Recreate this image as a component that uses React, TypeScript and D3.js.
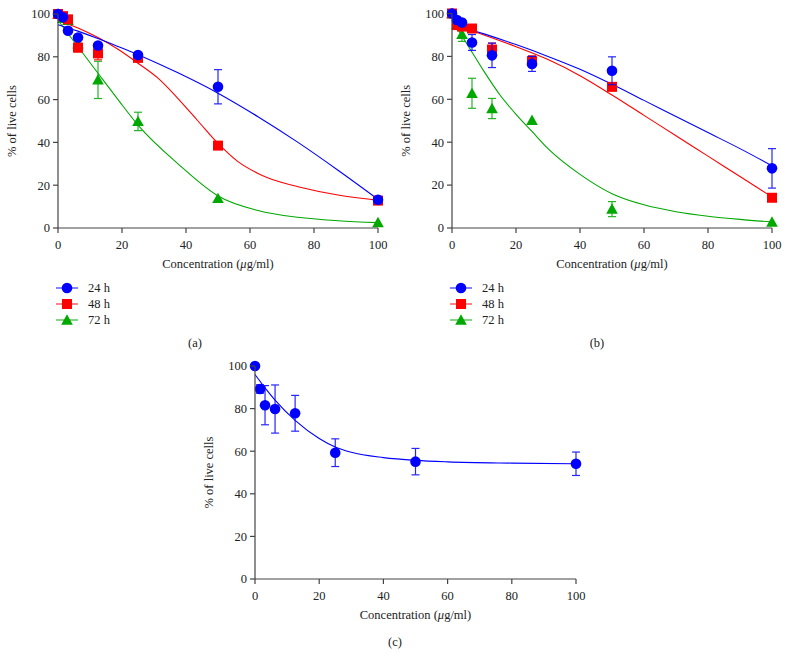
import * as d3 from "d3";

// concentrations (µg/ml) used in every panel
const conc = [0, 1.5625, 3.125, 6.25, 12.5, 25, 50, 100];
const xTicks = [0, 20, 40, 60, 80, 100];
const yTicks = [0, 20, 40, 60, 80, 100];

// panel (a)
const a24 = [100, 98.5, 92.2, 89, 85.3, 80.8, 66, 13.2];
const a24Err = [0, 0, 0, 0, 0, 0, 8, 0];
const a48 = [100, 99, 97.5, 84.3, 81.6, 79.5, 38.5, 12.8];
const a48Err = [0, 0, 0, 2, 3, 0, 0, 0];
const a72 = [100, 98, 97, 86, 69.2, 49.8, 13.8, 2.5];
const a72Err = [0, 0, 0, 0, 8.7, 4.3, 0, 0];
// fitted curves
const aFitX = [0, 6.25, 12.5, 18.75, 25, 37.5, 50, 62.5, 75, 87.5, 100];
const a24Fit = [95, 92, 88.5, 84.8, 81, 72.5, 63, 52, 40, 27, 13.4];
const a72Fit = [97, 84.7, 72.3, 60, 48.1, 30, 15, 8.2, 5, 3.4, 2.5];
const a48FitX = [0, 6.25, 12.5, 18.75, 25, 31.25, 37.5, 43.75, 50, 56.25, 62.5, 68.75, 75, 87.5, 100];
const a48Fit = [97, 93.5, 89, 83.5, 77, 70, 60.5, 50, 39.5, 31, 25.5, 21.8, 19.3, 15.4, 13];

// panel (b)
const b24 = [100, 97, 95.8, 86.5, 80.5, 76.5, 73.3, 27.8];
const b24Err = [0, 0, 0, 3.7, 5.7, 3.5, 6.5, 9.2];
const b48 = [100, 94.6, 93.9, 93, 83.2, 77.8, 65.8, 14.1];
const b48Err = [0, 0, 0, 0, 3, 2.5, 0, 0];
const b72 = [100, 95, 90.3, 62.8, 55.7, 50.2, 8.8, 2.8];
const b72Err = [0, 0, 3.3, 7, 4.7, 0, 3.5, 0];
const bFitX = [0, 10, 20, 30, 40, 50, 60, 70, 80, 90, 100];
const b24Fit = [95, 90.5, 85.5, 80, 74, 67, 59.5, 52, 44.5, 37, 29];
const b48Fit = [95, 90, 84.5, 78.5, 71, 62, 52.5, 43, 33.5, 24, 14.5];
const b72FitX = [0, 5, 10, 15, 20, 25, 30, 40, 50, 60, 70, 80, 90, 100];
const b72Fit = [97, 85, 73, 62, 53, 45, 37, 25, 16, 10.8, 7.6, 5.5, 4, 2.8];

// panel (c)
const c24 = [100, 89.2, 81.6, 79.8, 77.8, 59.3, 55.1, 54.1];
const c24Err = [0, 2, 9.2, 11.3, 8.4, 6.5, 6.2, 5.5];
const cFitX = [0, 3, 6.25, 12.5, 20, 25, 30, 40, 50, 60, 80, 100];
const c24Fit = [96, 90, 84, 74.5, 66, 62, 59.5, 57, 55.7, 55, 54.4, 54.1];

const BLUE = "#0000ff";
const RED = "#ff0000";
const GREEN = "#00a800";
const FONT = "'Liberation Serif', 'DejaVu Serif', serif";

type Series = {
  label: string;
  color: string;
  shape: "circle" | "square" | "triangle";
  values: number[];
  err: number[];
  fitX: number[];
  fit: number[];
};

const Marker = ({ shape, color, x, y }) => {
  if (shape === "circle") return <circle cx={x} cy={y} r={5.3} fill={color} />;
  if (shape === "square")
    return <rect x={x - 5} y={y - 5} width={10} height={10} fill={color} />;
  const s = 5.8;
  return (
    <path
      d={`M${x},${y - s}L${x + s},${y + s * 0.8}L${x - s},${y + s * 0.8}Z`}
      fill={color}
    />
  );
};

const Panel = ({ x0, x1, yTop, yBot, series, caption, captionX, legend }) => {
  const x = d3.scaleLinear().domain([0, 100]).range([x0, x1]);
  const y = d3.scaleLinear().domain([0, 100]).range([yBot, yTop]);
  const axisColor = "#444";
  // draw order: last series first so blue ends on top
  const order = [...series].reverse();
  return (
    <g fontFamily={FONT} fontSize={12.5} fill="#222">
      {/* fits */}
      {order.map((s) => {
        const line = d3
          .line<number>()
          .x((d, i) => x(s.fitX[i]))
          .y((d) => y(d))
          .curve(d3.curveMonotoneX);
        return (
          <path key={"f" + s.label} d={line(s.fit) || ""} fill="none" stroke={s.color} strokeWidth={1.1} />
        );
      })}
      {/* error bars + markers */}
      {order.map((s) => (
        <g key={"m" + s.label}>
          {s.values.map((v, i) =>
            s.err[i] > 0 ? (
              <g key={i} stroke={s.color} strokeWidth={1.2} opacity={0.85}>
                <line x1={x(conc[i])} x2={x(conc[i])} y1={y(v - s.err[i])} y2={y(v + s.err[i])} />
                <line x1={x(conc[i]) - 4} x2={x(conc[i]) + 4} y1={y(v - s.err[i])} y2={y(v - s.err[i])} />
                <line x1={x(conc[i]) - 4} x2={x(conc[i]) + 4} y1={y(v + s.err[i])} y2={y(v + s.err[i])} />
              </g>
            ) : null
          )}
          {s.values.map((v, i) => (
            <Marker key={i} shape={s.shape} color={s.color} x={x(conc[i])} y={y(v)} />
          ))}
        </g>
      ))}
      {/* axes */}
      <line x1={x0} x2={x0} y1={yBot} y2={yTop} stroke={axisColor} strokeWidth={1.2} />
      <line x1={x0} x2={x1} y1={yBot} y2={yBot} stroke={axisColor} strokeWidth={1.2} />
      {yTicks.map((t) => (
        <g key={"y" + t}>
          <line x1={x0 - 5} x2={x0} y1={y(t)} y2={y(t)} stroke={axisColor} strokeWidth={1.2} />
          <text x={x0 - 8} y={y(t)} dy="0.35em" textAnchor="end">
            {t}
          </text>
        </g>
      ))}
      {xTicks.map((t) => (
        <g key={"x" + t}>
          <line x1={x(t)} x2={x(t)} y1={yBot} y2={yBot + 5} stroke={axisColor} strokeWidth={1.2} />
          <text x={x(t)} y={yBot + 21} textAnchor="middle">
            {t}
          </text>
        </g>
      ))}
      <text
        transform={`translate(${x0 - 42},${(yTop + yBot) / 2}) rotate(-90)`}
        textAnchor="middle"
      >
        % of live cells
      </text>
      <text x={(x0 + x1) / 2} y={yBot + 40} textAnchor="middle">
        Concentration (<tspan fontStyle="italic">μ</tspan>g/ml)
      </text>
      {legend &&
        series.map((s, i) => {
          const ly = yBot + 60 + i * 16;
          return (
            <g key={"l" + s.label}>
              <line x1={x0 - 2} x2={x0 + 20} y1={ly} y2={ly} stroke={s.color} strokeWidth={1.2} opacity={0.8} />
              <Marker shape={s.shape} color={s.color} x={x0 + 9} y={ly} />
              <text x={x0 + 30} y={ly} dy="0.35em">
                {s.label}
              </text>
            </g>
          );
        })}
      <text x={captionX} y={legend ? yBot + 119 : yBot + 67} textAnchor="middle">
        {caption}
      </text>
    </g>
  );
};

const mk = (label, color, shape, values, err, fx, fit): Series => ({
  label,
  color,
  shape,
  values,
  err,
  fitX: fx,
  fit,
});

export default function App() {
  const seriesA = [
    mk("24 h", BLUE, "circle", a24, a24Err, aFitX, a24Fit),
    mk("48 h", RED, "square", a48, a48Err, a48FitX, a48Fit),
    mk("72 h", GREEN, "triangle", a72, a72Err, aFitX, a72Fit),
  ];
  const seriesB = [
    mk("24 h", BLUE, "circle", b24, b24Err, bFitX, b24Fit),
    mk("48 h", RED, "square", b48, b48Err, bFitX, b48Fit),
    mk("72 h", GREEN, "triangle", b72, b72Err, b72FitX, b72Fit),
  ];
  const seriesC = [mk("24 h", BLUE, "circle", c24, c24Err, cFitX, c24Fit)];
  return (
    <svg
      width={789}
      height={668}
      style={{ position: "absolute", left: 0, top: 0, background: "#fff" }}
    >
      <Panel x0={58} x1={378} yTop={14} yBot={228} series={seriesA} caption="(a)" captionX={195} legend />
      <Panel x0={452} x1={772} yTop={13.5} yBot={228} series={seriesB} caption="(b)" captionX={597} legend />
      <Panel x0={255} x1={576} yTop={366} yBot={579} series={seriesC} caption="(c)" captionX={395} legend={false} />
    </svg>
  );
}
